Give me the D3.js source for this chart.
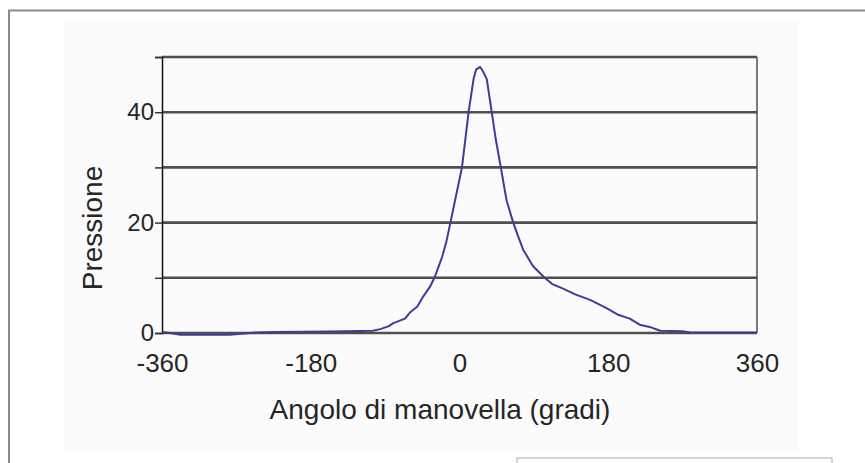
<!DOCTYPE html>
<html><head><meta charset="utf-8">
<script src="https://cdn.jsdelivr.net/npm/d3@7"></script>
<style>
html,body{margin:0;padding:0;background:#fff;}
svg text{font-family:"Liberation Sans",Arial,sans-serif;fill:#262626;}
</style></head>
<body>
<svg id="c" width="865" height="463"></svg>
<script>
const angles   = [-360,-350,-338,-300,-278,-260,-247,-223,-160,-120,-105,-96,-86,-80,-66,-60,-51,-44,-36,-30,-21,-16,-11,-4,3,7,11,14,17,20,25,28,33,36,39,44,50,57,65,71,77,89,103,113,126,140,158,178,192,206,218,230,243,270,279,360];
const pressure = [0.2,0,-0.3,-0.3,-0.3,-0.1,0.1,0.2,0.25,0.35,0.4,0.7,1.2,1.8,2.6,3.7,4.8,6.6,8.3,10.1,13.8,16.5,20,25,30,35,40,43,46,47.7,48.2,47.5,46,43,40,35,30,24,20,17.5,15.1,12.1,10,8.8,8.0,7.0,6.0,4.5,3.3,2.6,1.5,1.1,0.4,0.3,0.1,0.1];
const xTicks = [-360,-180,0,180,360];
const yTicks = [0,10,20,30,40,50];
const yLabelTicks = [0,20,40];
const xTitle = "Angolo di manovella (gradi)";
const yTitle = "Pressione";

const svg = d3.select("#c");
// outer frame
svg.append("line").attr("x1",8).attr("x2",865).attr("y1",10.5).attr("y2",10.5).attr("stroke","#8a8a8a").attr("stroke-width",2);
svg.append("line").attr("x1",9).attr("x2",9).attr("y1",10).attr("y2",463).attr("stroke","#8a8a8a").attr("stroke-width",2);
// inner panel
svg.append("rect").attr("x",65).attr("y",22).attr("width",733).attr("height",429).attr("fill","#fbfbfb");
// bottom-right box
svg.append("rect").attr("x",517).attr("y",458).attr("width",315).attr("height",10).attr("fill","#fdfdfd").attr("stroke","#c4cdc8").attr("stroke-width",1.5);

const x = d3.scaleLinear().domain([-360,360]).range([162,757]);
const y = d3.scaleLinear().domain([0,50]).range([333,57]);

// gridlines
svg.append("g").selectAll("line").data(yTicks).join("line")
  .attr("x1",162).attr("x2",757)
  .attr("y1",d=>y(d)).attr("y2",d=>y(d))
  .attr("stroke","#4f4f4f").attr("stroke-width",2.6);

// right border
svg.append("line").attr("x1",757).attr("x2",757).attr("y1",y(50)).attr("y2",y(0)).attr("stroke","#444").attr("stroke-width",1.4);

// y axis
const yAxis = d3.axisLeft(y).tickValues(yTicks).tickSize(7).tickPadding(1)
  .tickFormat(d=> yLabelTicks.includes(d) ? String(d) : "");
const gy = svg.append("g").attr("transform","translate(162,0)").call(yAxis);
gy.select(".domain").attr("stroke","#111").attr("stroke-width",1.5);
gy.selectAll(".tick line").attr("stroke","#333").attr("stroke-width",1.5);
gy.selectAll("text").attr("font-size",24).attr("fill","#262626").style("font-family","Liberation Sans, Arial, sans-serif");

// x axis
const xAxis = d3.axisBottom(x).tickValues(xTicks).tickSize(0).tickPadding(21).tickFormat(d=>String(d));
const gx = svg.append("g").attr("transform","translate(0,333)").call(xAxis);
gx.select(".domain").remove();
gx.selectAll("text").attr("font-size",26).attr("fill","#262626").style("font-family","Liberation Sans, Arial, sans-serif");

// line
const line = d3.line().x((d,i)=>x(angles[i])).y((d,i)=>y(pressure[i]));
svg.append("path").datum(pressure).attr("d",line)
  .attr("fill","none").attr("stroke","#3d3d98").attr("stroke-width",2).attr("stroke-linejoin","round");

// titles
svg.append("text").attr("x",440).attr("y",419).attr("text-anchor","middle").attr("font-size",28).text(xTitle);
svg.append("text").attr("transform","translate(102,228) rotate(-90)").attr("text-anchor","middle").attr("font-size",28).text(yTitle);
</script>
</body></html>
